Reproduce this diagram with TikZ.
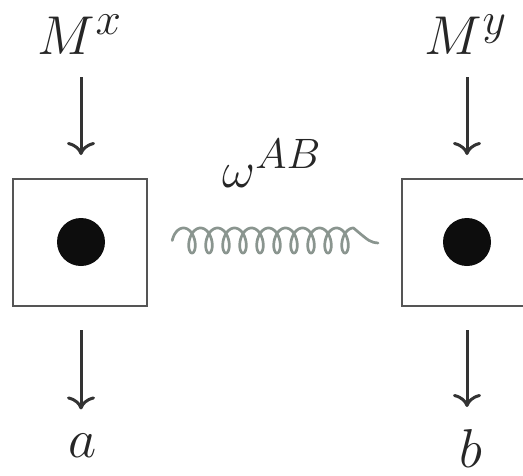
\documentclass[tikz,border=0pt]{standalone}
\usetikzlibrary{arrows.meta}
\definecolor{boxline}{HTML}{555555}
\definecolor{arrowcol}{HTML}{333333}
\definecolor{springcol}{HTML}{8A958F}
\newcommand{\bigmath}[1]{\scalebox{2.2}{\Huge$#1$}}
\newcommand{\omegamath}[1]{\scalebox{2.05}{\Huge$#1$}}
\tikzset{
  bigtext/.style={inner sep=0pt, outer sep=0pt, anchor=base, text=black!85},
  particlebox/.style={draw=boxline, line width=2.2pt, fill=white, minimum height=127pt, inner sep=0pt, outer sep=0pt},
  dot/.style={circle, fill=black!95, minimum size=48pt, inner sep=0pt},
  arr/.style={draw=arrowcol, line width=3pt, -{Computer Modern Rightarrow[length=13pt,width=28pt,line width=3pt]}},
  spring/.style={draw=springcol, line width=2.7pt, line cap=round, line join=round}
}
\begin{document}
\begin{tikzpicture}[x=1pt,y=-1pt]
\useasboundingbox (0,0) rectangle (523,475);
\clip (0,0) rectangle (523,475);
% boxes
\node[particlebox, minimum width=134pt] (A) at (80,242.5) {};
\node[particlebox, minimum width=128pt] (B) at (466,242.5) {};
\node[dot] (dA) at (81,242) {};
\node[dot] (dB) at (467,242) {};
% labels
\node[bigtext] (Mx) at (80,54) {\bigmath{M^x}};
\node[bigtext] (My) at (466,54) {\bigmath{M^y}};
\node[bigtext] (la) at (83,457) {\bigmath{a}};
\node[bigtext] (lb) at (471,467) {\bigmath{b}};
\node[bigtext] (w) at (272,187) {\omegamath{\omega^{AB}}};
% arrows
\draw[arr, shorten <=23pt, shorten >=24pt] (Mx.south -| dA) -- (A.north -| dA);
\draw[arr, shorten <=23pt, shorten >=24pt] (My.south -| dB) -- (B.north -| dB);
\draw[arr, shorten <=24pt, shorten >=24pt] (A.south -| dA) -- (la.north -| dA);
\draw[arr, shorten <=24pt, shorten >=22pt] (B.south -| dB) -- (lb.north -| dB);
% spring
\coordinate (sTail) at (378,243);
\draw[spring] plot[domain=-4.712:59.69, samples=700, variable=\t]
  ({192 + 2.706*\t - 7*sin(\t r)}, {240.5 + 12.5*cos(\t r)})
  .. controls (370,242) .. (sTail);
\end{tikzpicture}
\end{document}
